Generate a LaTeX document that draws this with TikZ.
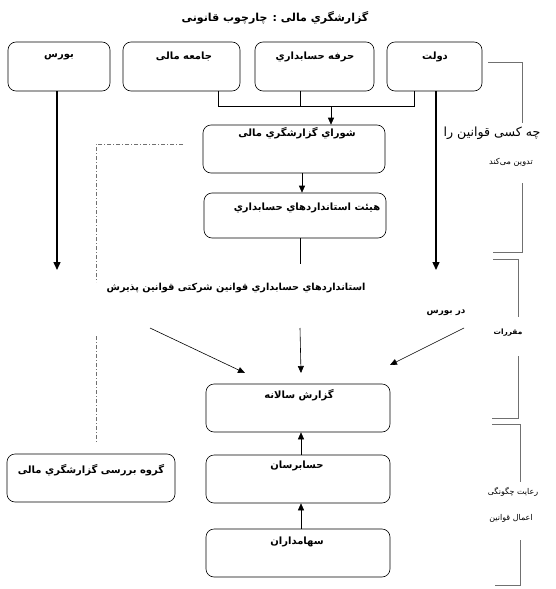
\documentclass[tikz,border=0pt]{standalone}
\usepackage{fontspec}
\TeXXeTstate=1
\newfontfamily\arfont[Script=Arabic]{DejaVu Sans}
\newcommand{\fatxt}[1]{{\arfont\beginR #1\endR}}
\usetikzlibrary{arrows.meta}
\definecolor{brk}{HTML}{707070}
\tikzset{
  box/.style={draw=black, line width=0.6pt, rounded corners=8pt, inner sep=0pt},
  lbl/.style={inner sep=0pt, font=\bfseries\fontsize{10}{12}\selectfont},
  arr/.style={-{Triangle[length=7pt,width=6pt]}, line width=0.6pt},
  thickarr/.style={-{Triangle[length=8pt,width=7pt]}, line width=1.4pt},
  bracket/.style={draw=brk, line width=0.6pt},
  dashdot/.style={draw=brk, line width=0.7pt, dash pattern=on 4pt off 2pt on 1pt off 2pt}
}
\begin{document}
\begin{tikzpicture}[x=1pt,y=-1pt]
\useasboundingbox[fill=white] (0,0) rectangle (555,589);

% title
\node[lbl, font=\bfseries\fontsize{11}{13}\selectfont] (title) at (275,18) {\fatxt{گزارشگري مالی : چارچوب قانونی}};

% top row boxes
\node[box, minimum width=102pt, minimum height=49pt] (bors) at (59,66.5) {};
\node[box, minimum width=117pt, minimum height=49pt] (jame) at (181.5,66.5) {};
\node[box, minimum width=119pt, minimum height=49pt] (herfe) at (314.5,66.5) {};
\node[box, minimum width=95pt, minimum height=49pt] (dolat) at (434.5,66.5) {};
\node[lbl] (tbors) at (59,57) {\fatxt{بورس}};
\node[lbl] (tjame) at (184,57) {\fatxt{جامعه مالی}};
\node[lbl] (therfe) at (315,57) {\fatxt{حرفه حسابداري}};
\node[lbl] (tdolat) at (435,57) {\fatxt{دولت}};

% middle column
\node[box, minimum width=182pt, minimum height=48pt] (shora) at (294,149) {};
\node[box, minimum width=182pt, minimum height=45pt] (heyat) at (295,215.5) {};
\node[lbl] (tshora) at (297,133) {\fatxt{شوراي گزارشگري مالی}};
\node[lbl] (theyat) at (307,208) {\fatxt{هیئت استانداردهاي حسابداري}};

\node[box, minimum width=184pt, minimum height=48pt] (gozaresh) at (298,408) {};
\node[box, minimum width=184pt, minimum height=48pt] (hesab) at (298,479) {};
\node[box, minimum width=184pt, minimum height=48pt] (saham) at (298,553) {};
\node[lbl] (tgozaresh) at (299,395) {\fatxt{گزارش سالانه}};
\node[lbl] (thesab) at (297,466) {\fatxt{حسابرسان}};
\node[lbl] (tsaham) at (297,542) {\fatxt{سهامداران}};

\node[box, minimum width=168pt, minimum height=48pt] (goruh) at (91,478) {};
\node[lbl] (tgoruh) at (91,470) {\fatxt{گروه بررسی گزارشگري مالی}};

% middle texts
\node[lbl, font=\bfseries\fontsize{9.7}{11}\selectfont] (tstd) at (236,288) {\fatxt{استانداردهاي حسابداري قوانین شرکتی قوانین پذیرش}};
\node[lbl, font=\bfseries\fontsize{8.8}{10}\selectfont] (tdar) at (446,313) {\fatxt{در بورس}};

% right side texts
\node[inner sep=0pt, font=\fontsize{12.6}{15}\selectfont] (tche) at (492,133) {\fatxt{چه کسی قوانین را}};
\node[inner sep=0pt, font=\fontsize{8.2}{10}\selectfont] (ttadvin) at (511,162) {\fatxt{تدوین می‌کند}};
\node[lbl, font=\bfseries\fontsize{7.4}{9}\selectfont] (tmoq) at (508,333) {\fatxt{مقررات}};
\node[inner sep=0pt, font=\fontsize{8}{9}\selectfont] (treayat) at (513,492) {\fatxt{رعایت چگونگی}};
\node[inner sep=0pt, font=\fontsize{8}{9}\selectfont] (temal) at (511,518) {\fatxt{اعمال قوانین}};

% coordinates
\coordinate (hj) at (218,106);
\coordinate (hh) at (300,106);
\coordinate (ha) at (331,106);
\coordinate (hd) at (414,106);
\coordinate (hb) at (300,264);
\coordinate (borsend) at (57,270);
\coordinate (dolatend) at (436,270);
\coordinate (ls) at (150,328);
\coordinate (le) at (245,373);
\coordinate (cs) at (300,328);
\coordinate (ce) at (301,373);
\coordinate (rs) at (464,328);
\coordinate (re) at (390,365);

% connectors top
\draw[line width=0.6pt] (jame.south -| hj) -- (hj) -- (hd) -- (dolat.south -| hd);
\draw[line width=0.6pt] (herfe.south -| hh) -- (hh);
\draw[arr] (ha) -- (shora.north -| ha);
\draw[arr] ([xshift=8pt]shora.south) -- ([xshift=7pt]heyat.north);
\draw[line width=0.6pt] ([xshift=5pt]heyat.south) -- (hb);
\draw[thickarr] (bors.south -| borsend) -- (borsend);
\draw[thickarr] (dolat.south -| dolatend) -- (dolatend);

% arrows into annual report
\draw[arr] (ls) -- (le);
\draw[arr] (cs) -- (ce);
\draw[arr] (rs) -- (re);
\draw[arr] ([xshift=3pt]hesab.north) -- ([xshift=3pt]gozaresh.south);
\draw[arr] ([xshift=3pt]saham.north) -- ([xshift=3pt]hesab.south);

% dash-dot line
\coordinate (d1) at (183,144);
\coordinate (d2) at (96,144);
\coordinate (d3) at (96,282);
\coordinate (d4) at (96,336);
\coordinate (d5) at (96,443);
\draw[dashdot] (d1) -- (d2) -- (d3);
\draw[dashdot] (d4) -- (d5);

% brackets
\draw[bracket] (488,62) -- (522,62) -- (522,123);
\draw[bracket] (522,183) -- (522,252) -- (493,252);
\draw[bracket] (493,259) -- (518,259) -- (518,317);
\draw[bracket] (518,356) -- (518,418) -- (492,418);
\draw[bracket] (492,424) -- (520,424) -- (520,482);
\draw[bracket] (520,540) -- (520,585) -- (495,585);
\end{tikzpicture}
\end{document}
